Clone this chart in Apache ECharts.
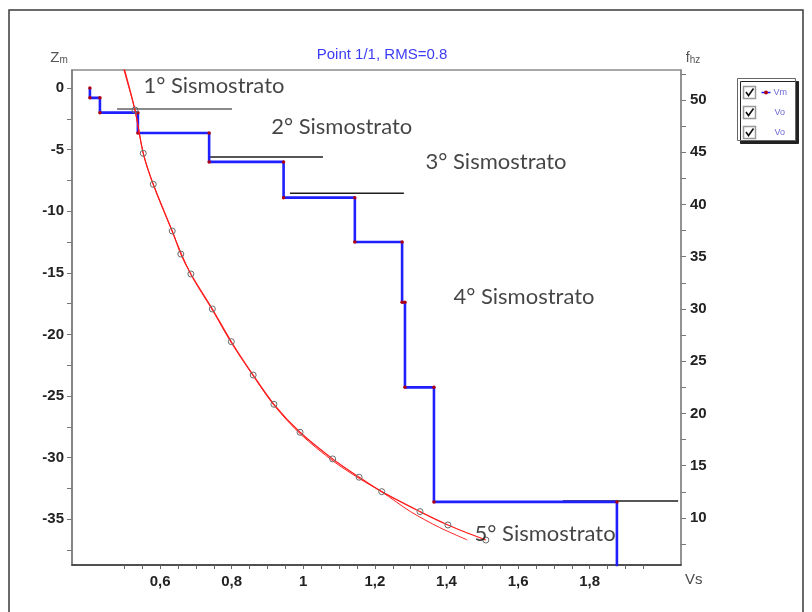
<!DOCTYPE html>
<html>
<head>
<meta charset="utf-8">
<script src="https://cdn.jsdelivr.net/npm/echarts@6/dist/echarts.min.js"></script>
<style>
html, body { margin: 0; padding: 0; background: #fff; }
#chart { width: 812px; height: 612px; }
</style>
</head>
<body>
<div id="chart"></div>
<script>
// modello Vs a strati (Vs in km/s, fondo strato in m)
var layerVs = [0.404, 0.432, 0.538, 0.737, 0.945, 1.144, 1.276, 1.284, 1.365, 1.876];
var layerBottom = [-0.8, -2.0, -3.65, -6.0, -8.9, -12.5, -17.4, -24.3, -33.6, -40];
var layerTop = 0;

// curva di dispersione osservata (Vs, frequenza Hz)
var obsVs = [0.484, 0.530, 0.553, 0.581, 0.634, 0.658, 0.686, 0.746, 0.799, 0.860, 0.918, 0.991, 1.082, 1.156, 1.219, 1.326, 1.404, 1.510];
var obsF = [55.0, 49.04, 44.90, 41.93, 37.46, 35.26, 33.35, 30.0, 26.87, 23.68, 20.88, 18.20, 15.65, 13.90, 12.52, 10.61, 9.33, 7.89];

// curva teorica
var fitVs = [0.484, 0.499, 0.530, 0.553, 0.581, 0.634, 0.686, 0.746, 0.800, 0.862, 0.920, 0.993, 1.085, 1.160, 1.219, 1.300, 1.380, 1.458];
var fitF = [55.0, 52.9, 49.0, 44.9, 41.9, 37.4, 33.3, 29.9, 26.7, 23.5, 20.7, 18.0, 15.4, 13.7, 12.5, 10.6, 9.1, 7.9];

// linee orizzontali dei sismostrati
var markVsStart = [0.480, 0.737, 0.963, 1.725];
var markVsEnd = [0.801, 1.055, 1.281, 2.047];
var markZ = [-1.70, -5.60, -8.55, -33.52];

// etichette sismostrati
var stratoNames = ['1° Sismostrato', '2° Sismostrato', '3° Sismostrato', '4° Sismostrato', '5° Sismostrato'];
var stratoVs = [0.552, 0.909, 1.340, 1.418, 1.477];
var stratoZ = [0.16, -3.14, -6.0, -16.96, -36.2];

// tacche e etichette assi
var xTickVals = [0.5, 0.55, 0.6, 0.65, 0.7, 0.75, 0.8, 0.85, 0.9, 0.95, 1, 1.05, 1.1, 1.15, 1.2, 1.25, 1.3, 1.35, 1.4, 1.45, 1.5, 1.55, 1.6, 1.65, 1.7, 1.75, 1.8, 1.85, 1.9, 1.95];
var xLabelVals = [0.6, 0.8, 1, 1.2, 1.4, 1.6, 1.8];
var zTickVals = [0, -2.5, -5, -7.5, -10, -12.5, -15, -17.5, -20, -22.5, -25, -27.5, -30, -32.5, -35, -37.5];
var zLabelVals = [0, -5, -10, -15, -20, -25, -30, -35];
var fTickVals = [7.5, 10, 12.5, 15, 17.5, 20, 22.5, 25, 27.5, 30, 32.5, 35, 37.5, 40, 42.5, 45, 47.5, 50, 52.5];
var fLabelVals = [10, 15, 20, 25, 30, 35, 40, 45, 50];

var myChart = echarts.init(document.getElementById('chart'));

// profilo a gradini
var stepData = [];
var prevZ = layerTop;
for (var i = 0; i < layerVs.length; i++) {
    stepData.push([layerVs[i], prevZ]);
    stepData.push([layerVs[i], layerBottom[i]]);
    prevZ = layerBottom[i];
}

function zip(a, b) {
    return a.map(function(v, i) { return [v, b[i]]; });
}

var labelFont = 'Liberation Sans';
var tickLabel = { fontFamily: labelFont, fontWeight: 'bold', fontSize: 15, color: '#222' };

var series = [];

// linee sismostrati
for (var k = 0; k < markZ.length; k++) {
    series.push({
        type: 'line',
        yAxisIndex: 0,
        data: [[markVsStart[k], markZ[k]], [markVsEnd[k], markZ[k]]],
        symbol: 'none',
        lineStyle: { color: k == 0 ? '#8a8a8a' : '#1e1e1e', width: k == 0 ? 2 : 1.6 },
        z: 2
    });
}

series.push({
    name: 'Vm',
    type: 'line',
    yAxisIndex: 0,
    data: stepData,
    symbol: 'circle',
    symbolSize: 3.5,
    itemStyle: { color: '#b00010' },
    lineStyle: { color: '#1f1fff', width: 2.6 },
    z: 3
});

series.push({
    name: 'Vo',
    type: 'line',
    yAxisIndex: 1,
    data: zip(fitVs, fitF),
    smooth: 0.3,
    symbol: 'none',
    lineStyle: { color: '#ff2020', width: 1 },
    z: 4
});

series.push({
    name: 'Vo oss',
    type: 'line',
    yAxisIndex: 1,
    data: zip(obsVs, obsF),
    smooth: 0.3,
    symbol: 'circle',
    symbolSize: 6,
    itemStyle: { color: 'rgba(255,255,255,0)', borderColor: '#6a6a6a', borderWidth: 1 },
    lineStyle: { color: '#ff1a1a', width: 1.2 },
    z: 5
});

series.push({
    type: 'scatter',
    yAxisIndex: 0,
    data: stratoNames.map(function(n, i) { return { name: n, value: [stratoVs[i], stratoZ[i]] }; }),
    symbolSize: 1,
    itemStyle: { color: 'rgba(0,0,0,0)' },
    label: {
        show: true,
        position: 'right',
        distance: 0,
        formatter: '{b}',
        fontFamily: 'Lato',
        fontSize: 22,
        color: '#151515'
    },
    z: 6
});

var option = {
    backgroundColor: '#fff',
    animation: false,
    title: {
        text: 'Point 1/1, RMS=0.8',
        left: 377,
        textAlign: 'center',
        top: 42,
        textStyle: { fontFamily: labelFont, fontSize: 15, fontWeight: 'normal', color: '#3c3cf4' }
    },
    grid: {
        left: 72, right: 131, top: 70, bottom: 47,
        show: true, borderColor: '#8c8c8c', borderWidth: 1.5
    },
    xAxis: {
        type: 'value',
        min: 0.354,
        max: 2.055,
        name: 'Vs',
        nameLocation: 'end',
        nameGap: 4,
        nameTextStyle: { fontFamily: labelFont, fontSize: 15, color: '#4a4a4a', verticalAlign: 'top', padding: [7, 0, 0, 0] },
        axisLine: { onZero: false, lineStyle: { color: '#333', width: 1.6 } },
        axisTick: { customValues: xTickVals, length: 4, lineStyle: { color: '#666' } },
        axisLabel: {
            customValues: xLabelVals,
            margin: 9,
            fontFamily: labelFont, fontWeight: 'bold', fontSize: 15, color: '#222',
            formatter: function(v) { return String(v).replace('.', ','); }
        },
        splitLine: { show: false }
    },
    yAxis: [{
        type: 'value',
        position: 'left',
        min: -38.72,
        max: 1.46,
        name: '{a|Z}{b|m}',
        nameLocation: 'end',
        nameGap: 5,
        nameTextStyle: {
            padding: [0, 26, 0, 0],
            rich: {
                a: { fontFamily: labelFont, fontSize: 15, color: '#555' },
                b: { fontFamily: labelFont, fontSize: 10, color: '#555', verticalAlign: 'bottom' }
            }
        },
        axisLine: { show: true, onZero: false, lineStyle: { color: '#7a7a7a', width: 1.5 } },
        axisTick: { show: true, customValues: zTickVals, length: 5, lineStyle: { color: '#777' } },
        axisLabel: Object.assign({ customValues: zLabelVals, margin: 8 }, tickLabel),
        splitLine: { show: false }
    }, {
        type: 'value',
        position: 'right',
        min: 5.5,
        max: 52.87,
        name: '{a|f}{b|hz}',
        nameLocation: 'end',
        nameGap: 5,
        nameTextStyle: {
            padding: [0, 0, 0, 24],
            rich: {
                a: { fontFamily: labelFont, fontSize: 14, color: '#555' },
                b: { fontFamily: labelFont, fontSize: 10, color: '#555', verticalAlign: 'bottom' }
            }
        },
        axisLine: { show: true, onZero: false, lineStyle: { color: '#8c8c8c', width: 1.5 } },
        axisTick: { show: true, customValues: fTickVals, length: 5, lineStyle: { color: '#777' } },
        axisLabel: Object.assign({ customValues: fLabelVals, margin: 9 }, tickLabel),
        splitLine: { show: false }
    }],
    graphic: [
        // cornice esterna
        { type: 'rect', shape: { x: 9, y: 10, width: 794, height: 620 }, style: { fill: 'none', stroke: '#3a3a3a', lineWidth: 1.5 }, silent: true },
        // legenda
        {
            type: 'group', left: 737, top: 78,
            children: [
                { type: 'rect', shape: { x: 0, y: 0, width: 58, height: 62 }, style: { fill: '#fff', stroke: '#666', lineWidth: 1, shadowColor: '#222', shadowOffsetX: 3, shadowOffsetY: 3, shadowBlur: 0 } },
                { type: 'rect', shape: { x: 6, y: 8, width: 12, height: 12 }, style: { fill: '#fff', stroke: '#999', lineWidth: 1.5 } },
                { type: 'polyline', shape: { points: [[8.5, 13.5], [11, 17], [16, 10]] }, style: { stroke: '#111', lineWidth: 1.6, fill: 'none' } },
                { type: 'rect', shape: { x: 6, y: 28, width: 12, height: 12 }, style: { fill: '#fff', stroke: '#999', lineWidth: 1.5 } },
                { type: 'polyline', shape: { points: [[8.5, 33.5], [11, 37], [16, 30]] }, style: { stroke: '#111', lineWidth: 1.6, fill: 'none' } },
                { type: 'rect', shape: { x: 6, y: 48, width: 12, height: 12 }, style: { fill: '#fff', stroke: '#999', lineWidth: 1.5 } },
                { type: 'polyline', shape: { points: [[8.5, 53.5], [11, 57], [16, 50]] }, style: { stroke: '#111', lineWidth: 1.6, fill: 'none' } },
                { type: 'line', shape: { x1: 24, y1: 14, x2: 33, y2: 14 }, style: { stroke: '#2020ff', lineWidth: 1.5 } },
                { type: 'circle', shape: { cx: 28.5, cy: 14, r: 2 }, style: { fill: '#b00010' } },
                { type: 'text', style: { x: 36, y: 14, text: 'Vm', fontFamily: labelFont, fontSize: 9, fill: '#6a6ad8', verticalAlign: 'middle' } },
                { type: 'text', style: { x: 37, y: 34, text: 'Vo', fontFamily: labelFont, fontSize: 9, fill: '#6a6ad8', verticalAlign: 'middle' } },
                { type: 'text', style: { x: 37, y: 54, text: 'Vo', fontFamily: labelFont, fontSize: 9, fill: '#6a6ad8', verticalAlign: 'middle' } }
            ]
        }
    ],
    series: series
};

myChart.setOption(option);
</script>
</body>
</html>
